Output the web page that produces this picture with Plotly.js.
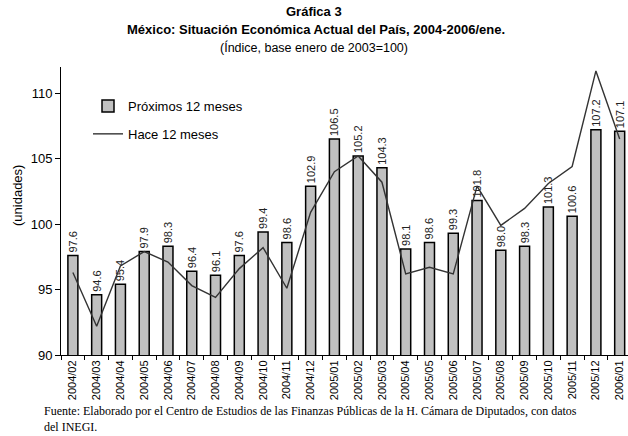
<!DOCTYPE html>
<html>
<head>
<meta charset="utf-8">
<script src="https://cdn.plot.ly/plotly-3.0.1.min.js"></script>
<style>html,body{margin:0;padding:0;background:#fff;}#chart{width:628px;height:436px;}</style>
</head>
<body>
<div id="chart"></div>
<script>
var categories = ["2004/02","2004/03","2004/04","2004/05","2004/06","2004/07","2004/08","2004/09","2004/10","2004/11","2004/12","2005/01","2005/02","2005/03","2005/04","2005/05","2005/06","2005/07","2005/08","2005/09","2005/10","2005/11","2005/12","2006/01"];
var proximos12 = [97.6,94.6,95.4,97.9,98.3,96.4,96.1,97.6,99.4,98.6,102.9,106.5,105.2,104.3,98.1,98.6,99.3,101.8,98.0,98.3,101.3,100.6,107.2,107.1];
var hace12 = [96.3,92.2,96.8,97.9,97.1,95.3,94.4,96.6,98.2,95.1,100.9,104.0,105.2,103.2,96.2,96.7,96.2,102.9,99.9,101.2,103.1,104.4,111.7,106.5];
var yTicks = [90,95,100,105,110];

var W = 628, H = 436, ML = 61, MR = 0, MT = 67, MB = 81;
var PW = W - ML - MR, PH = H - MT - MB;
function px(x){ return (x - ML) / PW; }
function py(y){ return (H - MB - y) / PH; }

var bars = {
  type: 'bar', name: 'Próximos 12 meses', x: categories, y: proximos12,
  width: 0.42,
  marker: {color: '#c0c0c0', line: {color: '#000', width: 1.5}},
  text: proximos12.map(function(v){ return v.toFixed(1); }),
  textposition: 'outside', textangle: -90, constraintext: 'none', cliponaxis: false,
  textfont: {family: 'Liberation Sans, Arial, sans-serif', size: 11, color: '#222'},
  legendgroup: 'a', hoverinfo: 'none'
};
var line = {
  type: 'scatter', mode: 'lines', name: 'Hace 12 meses', x: categories, y: hace12,
  line: {color: '#333', width: 1.4}, legendgroup: 'b', hoverinfo: 'none', cliponaxis: false
};

var font = 'Liberation Sans, Arial, sans-serif';
var layout = {
  width: W, height: H,
  margin: {l: ML, r: MR, t: MT, b: MB, pad: 0},
  paper_bgcolor: '#fff', plot_bgcolor: '#fff',
  font: {family: font, size: 13, color: '#000'},
  showlegend: true,
  legend: {x: px(88), y: py(91), xanchor: 'left', yanchor: 'top', bgcolor: 'rgba(0,0,0,0)',
           font: {family: font, size: 13, color: '#000'}, traceorder: 'grouped', tracegroupgap: 8, itemwidth: 30},
  xaxis: {type: 'category', range: [-0.5, 23.35], tickson: 'boundaries', ticks: 'outside', ticklen: 4,
          tickcolor: '#000', showline: true, linecolor: '#000', linewidth: 1, showgrid: false,
          tickangle: -90, tickfont: {family: font, size: 11, color: '#000'}, fixedrange: true},
  yaxis: {range: [90, 112], tickvals: yTicks, ticktext: yTicks.map(String), ticks: 'outside', ticklen: 5,
          tickcolor: '#000', showline: true, linecolor: '#000', linewidth: 1, showgrid: false, zeroline: false,
          tickfont: {family: font, size: 13, color: '#000'}, fixedrange: true},
  annotations: [
    {text: '<b>Gráfica 3</b>', xref: 'paper', yref: 'paper', x: px(314), y: py(12), xanchor: 'center', yanchor: 'middle', showarrow: false, font: {family: font, size: 13}},
    {text: '<b>México: Situación Económica Actual del País, 2004-2006/ene.</b>', xref: 'paper', yref: 'paper', x: px(316), y: py(30), xanchor: 'center', yanchor: 'middle', showarrow: false, font: {family: font, size: 13}},
    {text: '(Índice, base enero de 2003=100)', xref: 'paper', yref: 'paper', x: px(314), y: py(47), xanchor: 'center', yanchor: 'middle', showarrow: false, font: {family: font, size: 12.5}},
    {text: '(unidades)', xref: 'paper', yref: 'paper', x: px(17), y: py(196), xanchor: 'center', yanchor: 'middle', textangle: -90, showarrow: false, font: {family: font, size: 13}},
    {text: 'Fuente: Elaborado por el Centro de Estudios de las Finanzas Públicas de la H. Cámara de Diputados, con datos<br>del INEGI.',
     xref: 'paper', yref: 'paper', x: px(42), y: py(402), xanchor: 'left', yanchor: 'top', align: 'left', showarrow: false,
     font: {family: 'Liberation Serif, Times New Roman, serif', size: 12, color: '#000'}}
  ]
};

Plotly.newPlot('chart', [bars, line], layout, {displayModeBar: false, staticPlot: true});
</script>
</body>
</html>
